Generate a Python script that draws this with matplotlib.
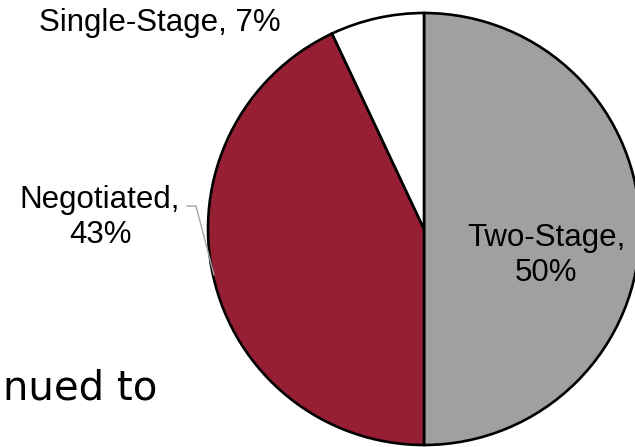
import matplotlib
matplotlib.use("Agg")
import matplotlib.pyplot as plt

# procurement method shares
labels = ["Two-Stage", "Negotiated", "Single-Stage"]
shares = [50, 43, 7]
colors = ["#A0A0A3", "#961F33", "#FFFFFF"]

W, H = 635, 447

def main():
	fig = plt.figure(figsize=(W / 100, H / 100), dpi=100)
	ax = fig.add_axes([0, 0, 1, 1])

	ax.pie(shares, colors=colors, startangle=90, counterclock=False,
		center=(424, H - 229), radius=216,
		wedgeprops=dict(edgecolor="black", linewidth=1.9))
	ax.set_xlim(0, W)
	ax.set_ylim(0, H)
	ax.set_aspect("equal")
	ax.set_axis_off()

	lab = ["%s,\n%d%%" % (l, s) for l, s in zip(labels, shares)]
	font = dict(family="Liberation Sans", fontsize=22.5, color="black",
		ha="center", va="baseline", linespacing=1.2)
	# baseline of multi-line text = last line
	ax.text(546, H - 281, lab[0], **font)
	ax.text(100, H - 243, lab[1], **font)
	ax.text(160, H - 31, lab[2].replace("\n", " "), **font)

	# leader line for Negotiated
	ax.plot([187, 196, 214], [H - 206, H - 206, H - 275], color="#A6A6A6", lw=1)

	# cut-off slide text behind the chart
	ax.text(157, H - 400, "nued to", family="DejaVu Sans", fontsize=29,
		ha="right", va="baseline", color="black")

	fig.savefig("out.png", dpi=100)

if __name__ == '__main__':
	main()
